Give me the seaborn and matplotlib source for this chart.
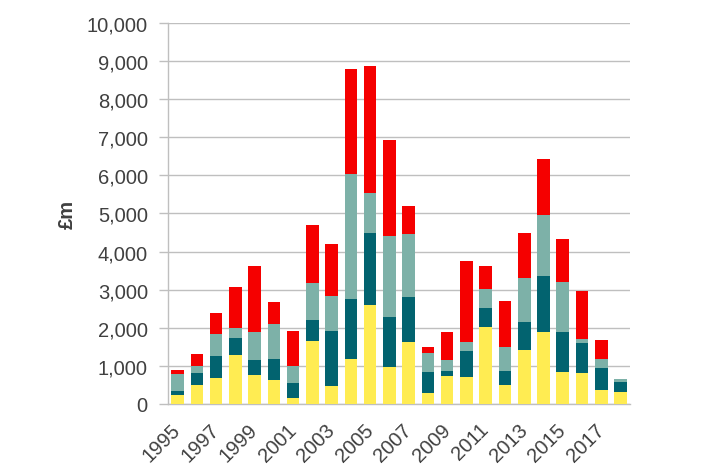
import numpy as np
import pandas as pd
import matplotlib
matplotlib.use("Agg")
import matplotlib.pyplot as plt
import seaborn as sns

# values in £m
years = list(range(1995, 2019))
yellow = [246, 509, 675, 1272, 772, 632, 158, 1649, 465, 1175, 2596, 982, 1623, 281,
          727, 700, 2030, 490, 1409, 1881, 831, 805, 359, 324]
dark_teal = [96, 298, 579, 447, 386, 561, 395, 553, 1439, 1580, 1886, 1290, 1193, 570,
             149, 702, 497, 376, 734, 1487, 1050, 787, 595, 262]
light_teal = [439, 202, 571, 272, 719, 912, 438, 965, 929, 3290, 1062, 2123, 1631, 491,
              266, 230, 483, 639, 1173, 1601, 1312, 114, 218, 79]
red = [123, 307, 570, 1079, 1737, 562, 913, 1533, 1354, 2755, 3324, 2544, 737, 149,
       757, 2118, 614, 1207, 1163, 1470, 1147, 1269, 517, 0]

series_names = ["yellow", "dark_teal", "light_teal", "red"]
series_vals = [yellow, dark_teal, light_teal, red]
colors = ["#FFEC52", "#02636F", "#7DB1A8", "#F50000"]

df = pd.DataFrame({"year": [str(y) for y in years]})
for name, vals in zip(series_names, series_vals):
    df[name] = vals
cum = np.cumsum(np.array(series_vals), axis=0)

sns.set_style("white")
plt.rcParams["font.family"] = ["Liberation Sans", "DejaVu Sans"]

fig = plt.figure(figsize=(7.21, 4.77), dpi=100)
ax = fig.add_axes([0.233, 0.151, 0.641, 0.799])

grey = "#BFBFBF"
text_col = "#404040"

# draw totals first, then overdraw the lower stacks
for i in range(len(series_names) - 1, -1, -1):
    sns.barplot(x=df["year"], y=cum[i], color=colors[i], width=0.65,
                saturation=1, edgecolor="none", linewidth=0, ax=ax, zorder=3)

ax.set_ylim(0, 10000)
ax.set_xlim(-0.5, len(years) - 0.5)
ax.set_yticks(range(0, 10001, 1000))
ax.set_yticklabels([f"{v:,}" for v in range(0, 10001, 1000)], fontsize=14.5, color=text_col)
ax.yaxis.grid(True, color=grey, linewidth=1)
ax.set_axisbelow(True)

ax.set_xticks(range(0, len(years), 2))
ax.set_xticklabels([str(y) for y in years[::2]], rotation=45, ha="right", va="center",
                   rotation_mode="anchor", fontsize=14.5, color=text_col)
ax.set_xticks(np.arange(-0.5, len(years), 1), minor=True)
ax.tick_params(axis="x", which="major", length=0, pad=16)
ax.tick_params(axis="x", which="minor", length=4.5, color=grey, width=1)
ax.tick_params(axis="y", length=6.5, color=grey, width=1, pad=8, left=True)

for s in ["top", "right"]:
    ax.spines[s].set_visible(False)
for s in ["left", "bottom"]:
    ax.spines[s].set_color(grey)
    ax.spines[s].set_linewidth(1)

ax.set_xlabel("")
ax.set_ylabel("£m", fontsize=14.5, fontweight="bold", color=text_col, labelpad=7)

fig.savefig("out.png", dpi=100)
